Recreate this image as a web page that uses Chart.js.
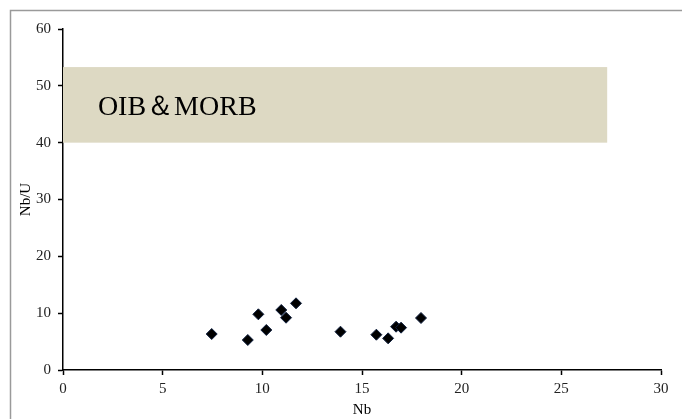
<!DOCTYPE html>
<html>
<head>
<meta charset="utf-8">
<script src="https://cdn.jsdelivr.net/npm/chart.js@4.4.0/dist/chart.umd.min.js"></script>
<style>
  html, body { margin: 0; padding: 0; background: #fff; }
  #wrap { width: 682px; height: 419px; position: relative; }
</style>
</head>
<body>
<div id="wrap"><canvas id="chart" width="682" height="419"></canvas></div>
<script>
// dados
const nbValues = [7.46, 9.27, 9.80, 10.2, 10.95, 11.19, 11.69, 13.92, 15.72, 16.31, 16.71, 16.96, 17.96];
const nbuValues = [6.33, 5.28, 9.8, 7.04, 10.56, 9.2, 11.73, 6.74, 6.21, 5.57, 7.62, 7.45, 9.15];

// campo OIB & MORB
const fieldX = [0, 27.3];
const fieldY = [40, 53.3];
const fieldLabel = 'OIB＆MORB';

const xTicks = [0, 5, 10, 15, 20, 25, 30];
const yTicks = [0, 10, 20, 30, 40, 50, 60];

const serif = '"Liberation Serif", "Times New Roman", serif';

// moldura cinza e campo sombreado
const backdrop = {
    id: 'backdrop',
    beforeDraw(chart) {
        const ctx = chart.ctx;
        ctx.save();
        ctx.strokeStyle = '#9a9a9a';
        ctx.lineWidth = 1.5;
        ctx.strokeRect(10.5, 10.5, 720, 460);
        ctx.restore();
    },
    beforeDatasetsDraw(chart) {
        const ctx = chart.ctx;
        const xs = chart.scales.x, ys = chart.scales.y;
        const x0 = xs.getPixelForValue(fieldX[0]), x1 = xs.getPixelForValue(fieldX[1]);
        const y0 = ys.getPixelForValue(fieldY[1]), y1 = ys.getPixelForValue(fieldY[0]);
        ctx.save();
        ctx.fillStyle = '#ddd9c3';
        ctx.fillRect(x0, y0, x1 - x0, y1 - y0);
        ctx.fillStyle = '#000';
        ctx.font = '28px ' + serif;
        ctx.textBaseline = 'middle';
        ctx.fillText(fieldLabel, xs.getPixelForValue(1.75), (y0 + y1) / 2 + 3);
        ctx.restore();
    }
};

new Chart(document.getElementById('chart').getContext('2d'), {
    type: 'scatter',
    data: {
        datasets: [{
            data: nbValues.map((v, i) => ({ x: v, y: nbuValues[i] })),
            pointStyle: 'rectRot',
            pointRadius: 5.5,
            backgroundColor: '#000',
            borderColor: '#10203f',
            borderWidth: 1
        }]
    },
    options: {
        responsive: false,
        animation: false,
        layout: { padding: { left: 0, top: 29, right: 21, bottom: 0 } },
        plugins: { legend: { display: false }, tooltip: { enabled: false } },
        scales: {
            x: {
                type: 'linear',
                min: 0, max: 30,
                afterBuildTicks: s => { s.ticks = xTicks.map(v => ({ value: v })); },
                afterFit: s => { s.height = 49; },
                grid: { display: true, drawOnChartArea: false, drawTicks: true, tickLength: 5, tickColor: '#000', tickWidth: 1.5 },
                border: { color: '#000', width: 1.5 },
                ticks: { color: '#222', font: { family: serif, size: 15 }, padding: 5, maxRotation: 0 },
                title: { display: true, text: 'Nb', color: '#000', font: { family: serif, size: 15 }, padding: { top: -5, bottom: 0 } }
            },
            y: {
                type: 'linear',
                min: 0, max: 60,
                afterBuildTicks: s => { s.ticks = yTicks.map(v => ({ value: v })); },
                afterFit: s => { s.width = 63; },
                grid: { display: true, drawOnChartArea: false, tickLength: 5, tickColor: '#000', tickWidth: 1.5 },
                border: { color: '#000', width: 1.5 },
                ticks: { color: '#222', font: { family: serif, size: 15 }, padding: 7 },
                title: { display: true, text: 'Nb/U', color: '#000', font: { family: serif, size: 15 }, padding: { top: 17, bottom: 0 } }
            }
        }
    },
    plugins: [backdrop]
});
</script>
</body>
</html>
